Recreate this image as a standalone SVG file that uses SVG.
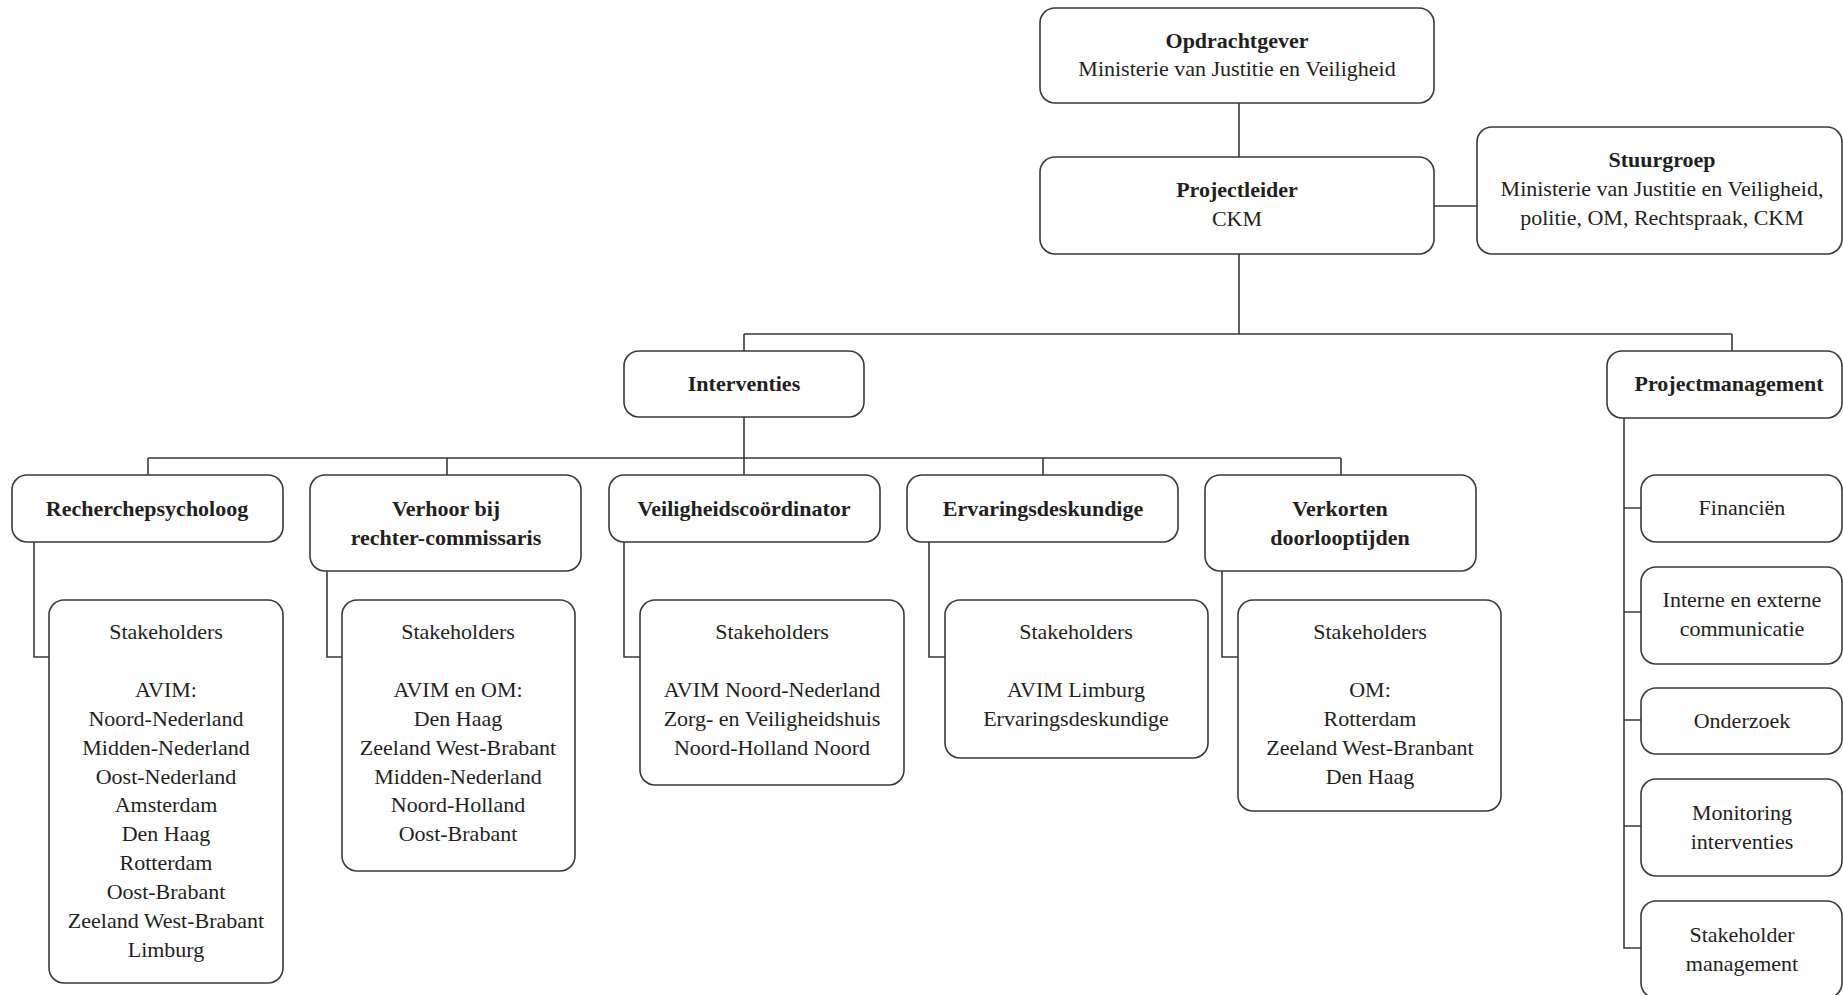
<svg xmlns="http://www.w3.org/2000/svg" width="1843" height="995" viewBox="0 0 1843 995">
<style>
.box{fill:#fff;stroke:#3a3a3a;stroke-width:1.6}
.con{fill:none;stroke:#3a3a3a;stroke-width:1.6}
text{font-family:"Liberation Serif","Times New Roman",serif;font-size:22px;fill:#231f20;text-anchor:middle}
.b{font-weight:bold}
</style>
<rect width="1843" height="995" fill="#fff"/>
<g id="connectors">
<path class="con" d="M1239 103V157M1434 206H1477M1239 254V334M744 334H1732M744 334V351M1732 334V351"/>
<path class="con" d="M744 417V475M148 458H1341M148 458V475M447 458V475M1043 458V475M1341 458V475"/>
<path class="con" d="M34 542V657H49M327 571V657H342M624 542V657H640M929 542V657H945M1222 571V657H1238"/>
<path class="con" d="M1624 418V948H1641M1624 508H1641M1624 612H1641M1624 720H1641M1624 826H1641"/>
</g>
<g id="opdrachtgever"><rect class="box" x="1040" y="8" width="394" height="95" rx="15"/><text class="b" x="1237" y="48">Opdrachtgever</text><text x="1237" y="76">Ministerie van Justitie en Veiligheid</text></g>
<g id="projectleider"><rect class="box" x="1040" y="157" width="394" height="97" rx="15"/><text class="b" x="1237" y="197">Projectleider</text><text x="1237" y="226">CKM</text></g>
<g id="stuurgroep"><rect class="box" x="1477" y="127" width="365" height="127" rx="15"/><text class="b" x="1662" y="167">Stuurgroep</text><text x="1662" y="196">Ministerie van Justitie en Veiligheid,</text><text x="1662" y="225">politie, OM, Rechtspraak, CKM</text></g>
<g id="interventies"><rect class="box" x="624" y="351" width="240" height="66" rx="15"/><text class="b" x="744" y="391">Interventies</text></g>
<g id="projectmanagement"><rect class="box" x="1607" y="351" width="235" height="67" rx="15"/><text class="b" x="1729" y="391">Projectmanagement</text></g>
<g id="recherchepsycholoog"><rect class="box" x="12" y="475" width="271" height="67" rx="15"/><text class="b" x="147" y="516">Recherchepsycholoog</text></g>
<g id="verhoor"><rect class="box" x="310" y="475" width="271" height="96" rx="15"/><text class="b" x="446" y="516">Verhoor bij</text><text class="b" x="446" y="545">rechter-commissaris</text></g>
<g id="veiligheidscoordinator"><rect class="box" x="609" y="475" width="271" height="67" rx="15"/><text class="b" x="744" y="516">Veiligheidscoördinator</text></g>
<g id="ervaringsdeskundige"><rect class="box" x="907" y="475" width="271" height="67" rx="15"/><text class="b" x="1043" y="516">Ervaringsdeskundige</text></g>
<g id="verkorten"><rect class="box" x="1205" y="475" width="271" height="96" rx="15"/><text class="b" x="1340" y="516">Verkorten</text><text class="b" x="1340" y="545">doorlooptijden</text></g>
<g id="sh-recherche"><rect class="box" x="49" y="600" width="234" height="383" rx="15"/>
<text x="166" y="639">Stakeholders</text><text x="166" y="697">AVIM:</text><text x="166" y="726">Noord-Nederland</text><text x="166" y="755">Midden-Nederland</text><text x="166" y="784">Oost-Nederland</text><text x="166" y="812">Amsterdam</text><text x="166" y="841">Den Haag</text><text x="166" y="870">Rotterdam</text><text x="166" y="899">Oost-Brabant</text><text x="166" y="928">Zeeland West-Brabant</text><text x="166" y="957">Limburg</text></g>
<g id="sh-verhoor"><rect class="box" x="342" y="600" width="233" height="271" rx="15"/>
<text x="458" y="639">Stakeholders</text><text x="458" y="697">AVIM en OM:</text><text x="458" y="726">Den Haag</text><text x="458" y="755">Zeeland West-Brabant</text><text x="458" y="784">Midden-Nederland</text><text x="458" y="812">Noord-Holland</text><text x="458" y="841">Oost-Brabant</text></g>
<g id="sh-veiligheid"><rect class="box" x="640" y="600" width="264" height="185" rx="15"/>
<text x="772" y="639">Stakeholders</text><text x="772" y="697">AVIM Noord-Nederland</text><text x="772" y="726">Zorg- en Veiligheidshuis</text><text x="772" y="755">Noord-Holland Noord</text></g>
<g id="sh-ervaring"><rect class="box" x="945" y="600" width="263" height="158" rx="15"/>
<text x="1076" y="639">Stakeholders</text><text x="1076" y="697">AVIM Limburg</text><text x="1076" y="726">Ervaringsdeskundige</text></g>
<g id="sh-verkorten"><rect class="box" x="1238" y="600" width="263" height="211" rx="15"/>
<text x="1370" y="639">Stakeholders</text><text x="1370" y="697">OM:</text><text x="1370" y="726">Rotterdam</text><text x="1370" y="755">Zeeland West-Branbant</text><text x="1370" y="784">Den Haag</text></g>
<g id="financien"><rect class="box" x="1641" y="475" width="201" height="67" rx="15"/><text x="1742" y="515">Financiën</text></g>
<g id="communicatie"><rect class="box" x="1641" y="567" width="201" height="97" rx="15"/><text x="1742" y="607">Interne en externe</text><text x="1742" y="636">communicatie</text></g>
<g id="onderzoek"><rect class="box" x="1641" y="688" width="201" height="66" rx="15"/><text x="1742" y="728">Onderzoek</text></g>
<g id="monitoring"><rect class="box" x="1641" y="779" width="201" height="97" rx="15"/><text x="1742" y="820">Monitoring</text><text x="1742" y="849">interventies</text></g>
<g id="stakeholdermanagement"><rect class="box" x="1641" y="901" width="201" height="97" rx="15"/><text x="1742" y="942">Stakeholder</text><text x="1742" y="971">management</text></g>
</svg>
